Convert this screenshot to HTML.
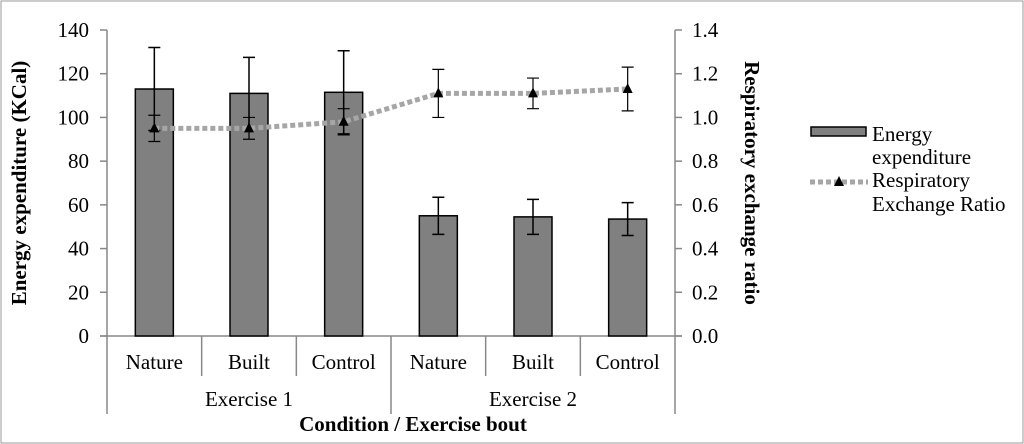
<!DOCTYPE html>
<html><head><meta charset="utf-8"><style>
body{margin:0;background:#fff;}
svg{display:block;font-family:"Liberation Serif",serif;}
</style></head><body>
<svg width="1024" height="444">
<rect x="1" y="1" width="1022" height="442" fill="#fff" stroke="#999" stroke-width="1"/>
<g id="g"></g>
</svg>
<script>
const categories=["Nature","Built","Control","Nature","Built","Control"];
const groups=["Exercise 1","Exercise 2"];
const energy=[113,111,111.5,55,54.5,53.5];
const energyErr=[19,16.5,19,8.5,8,7.5];
const rer=[0.95,0.95,0.98,1.11,1.11,1.13];
const rerErr=[0.06,0.05,0.06,0.11,0.07,0.10];
const leftTicks=[0,20,40,60,80,100,120,140];
const rightTicks=["0.0","0.2","0.4","0.6","0.8","1.0","1.2","1.4"];

const NS="http://www.w3.org/2000/svg";
const g=document.getElementById('g');
const X0=107,X1=675,Y0=336,Y1=30;
const bw=(X1-X0)/categories.length;
const yL=v=>Y0-(v/140)*(Y0-Y1);
const yR=v=>Y0-(v/1.4)*(Y0-Y1);
const xc=i=>X0+bw*(i+0.5);
const FS=21;
function mk(t,a,txt){const e=document.createElementNS(NS,t);for(const k in a)e.setAttribute(k,a[k]);if(txt!==undefined)e.textContent=txt;g.appendChild(e);return e;}

let e=mk('line',{x1:X0,y1:Y1,x2:X0,y2:Y0,stroke:'#888','stroke-width':1.5});

e=mk('line',{x1:X1,y1:Y1,x2:X1,y2:Y0,stroke:'#888','stroke-width':1.5});

e=mk('line',{x1:X0-7,y1:Y0,x2:X1+7,y2:Y0,stroke:'#888','stroke-width':1.5});

leftTicks.forEach(v=>{
 mk('line',{x1:X0-7,y1:yL(v),x2:X0,y2:yL(v),stroke:'#888','stroke-width':1.5});
 e=mk('text',{x:89,y:yL(v)+7,'text-anchor':'end','font-size':FS},v);
 
});
rightTicks.forEach((t,i)=>{
 const y=yR(i*0.2);
 mk('line',{x1:X1,y1:y,x2:X1+7,y2:y,stroke:'#888','stroke-width':1.5});
 e=mk('text',{x:692,y:y+7,'font-size':FS},t);
 
});
for(let i=0;i<=categories.length;i++){
 const x=X0+bw*i;
 const long=(i%3===0);
 mk('line',{x1:x,y1:Y0,x2:x,y2:long?414:376,stroke:'#888','stroke-width':1.5});
}
categories.forEach((c,i)=>{
 e=mk('text',{x:xc(i),y:369,'text-anchor':'middle','font-size':FS},c);
 
});
groups.forEach((gname,i)=>{
 e=mk('text',{x:X0+bw*(3*i+1.5),y:406,'text-anchor':'middle','font-size':FS},gname);
 
});
energy.forEach((v,i)=>{
 e=mk('rect',{x:xc(i)-19,y:yL(v),width:38,height:Y0-yL(v),fill:'#808080',stroke:'#000','stroke-width':1.5});
 
});
energy.forEach((v,i)=>{
 const a=yL(v+energyErr[i]),b=yL(v-energyErr[i]),x=xc(i);
 e=mk('path',{d:`M${x},${a}V${b}M${x-6},${a}H${x+6}M${x-6},${b}H${x+6}`,stroke:'#000','stroke-width':1.5,fill:'none'});
 
});
e=mk('polyline',{points:rer.map((v,i)=>xc(i)+','+yR(v)).join(' '),fill:'none',stroke:'#a6a6a6','stroke-width':5,'stroke-dasharray':'5,3'});

rer.forEach((v,i)=>{
 const a=yR(v+rerErr[i]),b=yR(v-rerErr[i]),x=xc(i);
 e=mk('path',{d:`M${x},${a}V${b}M${x-6},${a}H${x+6}M${x-6},${b}H${x+6}`,stroke:'#000','stroke-width':1.2,fill:'none'});
 
 const y=yR(v);
 e=mk('path',{d:`M${x},${y-6}L${x+5},${y+4}L${x-5},${y+4}Z`,fill:'#000'});
 
});
e=mk('text',{transform:'translate(26,183) rotate(-90)','text-anchor':'middle','font-size':FS,'font-weight':'bold'},'Energy expenditure (KCal)');

e=mk('text',{transform:'translate(745,183) rotate(90)','text-anchor':'middle','font-size':FS,'font-weight':'bold'},'Respiratory exchange ratio');

e=mk('text',{x:413,y:431,'text-anchor':'middle','font-size':FS,'font-weight':'bold'},'Condition / Exercise bout');

e=mk('rect',{x:811,y:127,width:55,height:9,fill:'#808080',stroke:'#000','stroke-width':1.5});

e=mk('text',{x:872,y:141,'font-size':FS},'Energy');

mk('text',{x:872,y:164,'font-size':FS},'expenditure');
e=mk('line',{x1:810,y1:182,x2:868,y2:182,stroke:'#a6a6a6','stroke-width':5,'stroke-dasharray':'5,3'});

mk('path',{d:'M839,176L844,186L834,186Z',fill:'#000'});
e=mk('text',{x:872,y:187,'font-size':FS},'Respiratory');

mk('text',{x:872,y:211,'font-size':FS},'Exchange Ratio');
</script>
</body></html>
